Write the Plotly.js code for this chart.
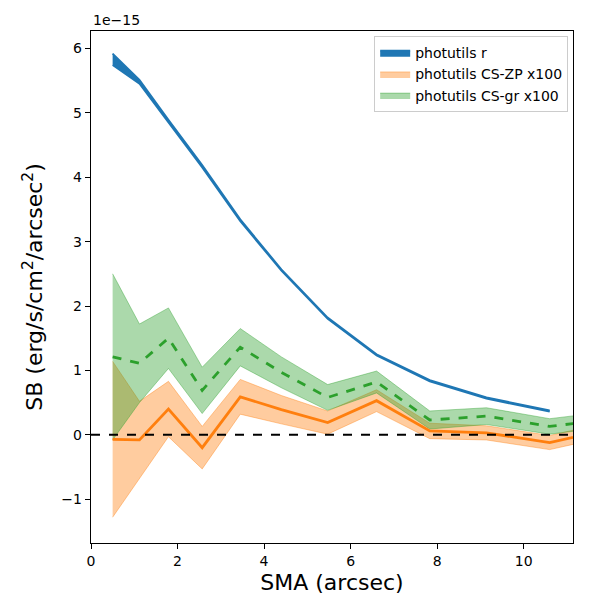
<!DOCTYPE html>
<html>
<head>
<meta charset="utf-8">
<script src="https://cdn.plot.ly/plotly-3.0.1.min.js"></script>
<style>body{margin:0;padding:0;background:#fff}#chart{width:600px;height:600px}</style>
</head>
<body>
<div id="chart"></div>
<script>
// SMA (arcsec)
const sma = [0.5, 1.12, 1.79, 2.57, 3.45, 4.4, 5.47, 6.6, 7.83, 9.14, 10.6, 12.2];

// photutils r, units of 1e-15 erg/s/cm2/arcsec2
const rVal = [5.83, 5.48, 4.87, 4.17, 3.33, 2.56, 1.81, 1.24, 0.84, 0.57, 0.37];
const rErr = [0.09, 0.03, 0.02, 0.02, 0.015, 0.01, 0.01, 0.01, 0.01, 0.01, 0.01];

// CS-ZP x100
const zpVal = [-0.07, -0.08, 0.40, -0.20, 0.59, 0.39, 0.19, 0.53, 0.06, 0.03, -0.12, 0.12];
const zpErr = [1.21, 0.60, 0.43, 0.33, 0.27, 0.22, 0.18, 0.17, 0.12, 0.11, 0.11, 0.11];

// CS-gr x100
const grVal = [1.21, 1.11, 1.50, 0.69, 1.36, 0.97, 0.58, 0.82, 0.23, 0.29, 0.13, 0.26];
const grErr = [1.29, 0.61, 0.47, 0.36, 0.29, 0.24, 0.20, 0.17, 0.14, 0.13, 0.12, 0.12];

const yTicks = [-1, 0, 1, 2, 3, 4, 5, 6];
const xTicks = [0, 2, 4, 6, 8, 10];

const FONT = "DejaVu Sans, sans-serif";

function band(vals, errs, sign) {
    return vals.map((v, i) => v + sign * errs[i]);
}

function bandPair(vals, errs, name, fillColor, edgeColor, edgeWidth) {
    const x = sma.slice(0, vals.length);
    return [
        {
            x: x, y: band(vals, errs, -1), type: "scatter", mode: "lines",
            line: { color: edgeColor, width: edgeWidth }, showlegend: false, hoverinfo: "skip"
        },
        {
            x: x, y: band(vals, errs, 1), type: "scatter", mode: "lines",
            fill: "tonexty", fillcolor: fillColor,
            line: { color: edgeColor, width: edgeWidth }, name: name, showlegend: true
        }
    ];
}

const traces = [
    ...bandPair(rVal, rErr, "photutils r", "#1f77b4", "#1f77b4", 1.8),
    ...bandPair(zpVal, zpErr, "photutils CS-ZP x100", "rgba(255,127,14,0.4)", "rgba(255,127,14,0.4)", 1),
    ...bandPair(grVal, grErr, "photutils CS-gr x100", "rgba(44,160,44,0.4)", "rgba(44,160,44,0.4)", 1),
    {
        x: sma, y: zpVal, type: "scatter", mode: "lines",
        line: { color: "#ff7f0e", width: 2.8 }, showlegend: false
    },
    {
        x: sma, y: grVal, type: "scatter", mode: "lines",
        line: { color: "#2ca02c", width: 2.8, dash: "dash" }, showlegend: false
    }
];

const layout = {
    width: 600,
    height: 600,
    paper_bgcolor: "#fff",
    plot_bgcolor: "#fff",
    font: { family: FONT, size: 14, color: "#000" },
    margin: { l: 91, r: 27, t: 31, b: 57 },
    xaxis: {
        range: [0, 11.14],
        tickvals: xTicks,
        ticks: "outside", ticklen: 5, tickwidth: 1, tickcolor: "#000",
        showline: true, linecolor: "#000", linewidth: 1.2, mirror: true,
        showgrid: false, zeroline: false,
        tickfont: { size: 14 },
        title: { text: "SMA (arcsec)", font: { size: 22 }, standoff: 6 }
    },
    yaxis: {
        range: [-1.68, 6.27],
        tickvals: yTicks,
        ticks: "outside", ticklen: 5, tickwidth: 1, tickcolor: "#000",
        showline: true, linecolor: "#000", linewidth: 1.2, mirror: true,
        showgrid: false, zeroline: false,
        tickfont: { size: 14 },
        title: { text: "SB (erg/s/cm<sup>2</sup>/arcsec<sup>2</sup>)", font: { size: 22 }, standoff: 12 }
    },
    shapes: [{
        type: "line", xref: "paper", x0: 0, x1: 1, yref: "y", y0: 0, y1: 0,
        line: { color: "#000", width: 2, dash: "dash" }
    }],
    annotations: [{
        text: "1e\u221215", xref: "paper", yref: "paper", x: 0, y: 1,
        xanchor: "left", yanchor: "bottom", showarrow: false,
        font: { size: 14 }, yshift: 1
    }],
    legend: {
        x: 0.99, y: 0.99, xanchor: "right", yanchor: "top",
        bgcolor: "rgba(255,255,255,0.8)", bordercolor: "#ccc", borderwidth: 1,
        font: { size: 14 }, traceorder: "normal"
    },
    showlegend: true
};

Plotly.newPlot("chart", traces, layout, { displayModeBar: false, staticPlot: true });
</script>
</body>
</html>
